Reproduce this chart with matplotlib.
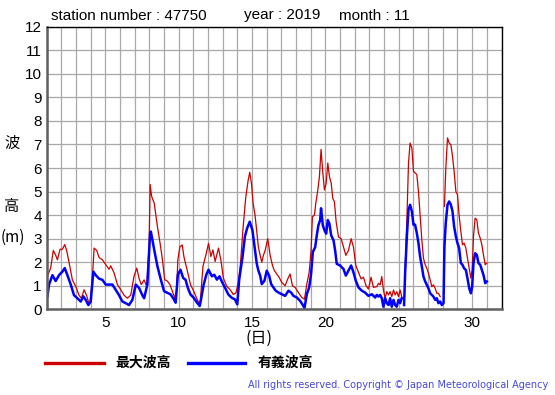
import numpy as np
import matplotlib
matplotlib.use("Agg")
import matplotlib.pyplot as plt

nan = float("nan")

# ---- data (day-of-month position, wave height in m) ----
max_days = [1.05, 1.27, 1.45, 1.61, 1.73, 1.91, 2.07, 2.23, 2.36, 2.52, 2.75, 2.98, 3.20, 3.36, 3.55,
            3.73, 3.84, 3.95, 4.11, 4.23, 4.41, 4.57, 4.80, 5.02, 5.25, 5.36, 5.59, 5.82, 6.05, 6.27,
            6.50, 6.73, 6.95, 7.14, 7.30, 7.45, 7.64, 7.82, 7.98, 8.05, 8.15,
            8.33, 8.55, 8.73, 8.89, 9.04, 9.22, 9.40, 9.56, 9.72, 9.85, 9.94, 10.08, 10.24, 10.35,
            10.46, 10.62, 10.80, 11.02, 11.20, 11.36, 11.47, 11.65, 11.88, 12.03, 12.19, 12.33, 12.48,
            12.71, 12.87, 13.04, 13.27, 13.49, 13.72, 13.90, 14.06, 14.21, 14.39, 14.57, 14.73, 14.84,
            14.96, 15.07,
            15.20, 15.32, 15.43, 15.55, 15.66, 15.77, 15.89, 16.07, 16.23, 16.39, 16.52, 16.68, 16.84,
            17.02, 17.25, 17.43, 17.59, 17.75, 17.93, 18.16, 18.39, 18.57, 18.73, 18.89, 19.02, 19.11,
            19.25, 19.34, 19.48, 19.59, 19.70, 19.82, 19.93, 20.05, 20.16, 20.27, 20.39, 20.50, 20.61,
            20.73, 20.89, 21.07, 21.23, 21.39, 21.57, 21.75, 21.91, 22.07, 22.25, 22.43, 22.59, 22.77,
            22.93, 23.11, 23.27,
            23.50, 23.61, 23.73, 23.84, 23.95, 24.07, 24.18, 24.30, 24.41, 24.52, 24.64, 24.75, 24.86,
            24.98, 25.09, 25.20, 25.30,
            25.43, 25.55, 25.66, 25.77, 25.89, 26.00, 26.11, 26.23, 26.34, 26.45, 26.57, 26.68, 26.80,
            26.91, 27.02, 27.14, 27.25, 27.36, 27.48, 27.59, 27.70, 27.82, 27.95,
            28.11, 28.20, 28.32, 28.43, 28.55, 28.66, 28.77, 28.89, 29.00, 29.11, 29.23, 29.34, 29.45,
            29.57, 29.68, 29.80, 29.91, 30.00, 30.09, 30.20, 30.32, 30.43, 30.55, 30.66, 30.77, 30.89,
            31.00]
max_wave = [1.4, 1.75, 2.5, 2.3, 2.1, 2.55, 2.55, 2.75, 2.5, 2.0, 1.25, 0.97, 0.6, 0.47, 0.83,
            0.57, 0.33, 0.26, 1.25, 2.6, 2.5, 2.2, 2.1, 1.9, 1.7, 1.85, 1.55, 1.05, 0.83, 0.6,
            0.47, 0.6, 1.4, 1.75, 1.3, 1.05, 1.25, 0.97, 2.7, 5.3, 4.8,
            4.5, 3.5, 2.8, 2.1, 1.26, 1.2, 1.05, 0.77, 0.5, 0.77, 2.1, 2.66, 2.73, 2.24,
            1.96, 1.54, 1.05, 0.77, 0.5, 0.28, 0.35, 1.82, 2.38, 2.8, 2.24, 2.52, 2.03,
            2.6, 2.1, 1.33, 0.98, 0.84, 0.63, 0.7, 1.12, 1.96, 3.5, 4.77, 5.47, 5.82,
            5.33, 4.49,
            4.0, 3.3, 2.64, 2.29, 2.0, 2.29, 2.5, 3.0, 2.29, 1.86, 1.64, 1.5, 1.36,
            1.14, 1.0, 1.29, 1.5, 1.0, 0.93, 0.71, 0.5, 0.43, 1.07, 1.57, 2.5, 3.93,
            4.0, 4.5, 5.07, 5.64, 6.79, 5.79, 5.07, 5.36, 6.21, 5.64, 5.36, 4.71, 4.57,
            3.71, 3.07, 3.0, 2.64, 2.29, 2.5, 3.0, 2.64, 1.86, 1.57, 1.29, 1.36, 1.0,
            0.86, 1.36, 0.93,
            0.96, 1.1, 1.04, 1.39, 0.82, 0.47, 0.75, 0.61, 0.75, 0.54, 0.82, 0.61, 0.75,
            0.54, 0.82, 0.54, nan,
            1.67, 3.8, 6.2, 7.06, 6.85, 5.86, 5.79, 5.72, 5.0, 4.0, 2.95, 2.17, 1.89,
            1.74, 1.53, 1.25, 0.96, 1.04, 0.89, 0.68, 0.68, 0.54, nan,
            4.37, 5.93, 7.28, 7.06, 6.99, 6.5, 5.86, 5.0, 4.87, 4.0, 3.3, 2.74, 2.81,
            2.6, 2.17, 1.74, 1.32, 1.67, 3.09, 3.87, 3.8, 3.23, 3.02, 2.74, 2.31, 1.89,
            1.96]

sig_days = [1.05, 1.16, 1.39, 1.61, 1.84, 2.07, 2.23, 2.41, 2.64, 2.86, 3.09, 3.32, 3.50, 3.66, 3.84,
            4.00, 4.18, 4.34, 4.57, 4.80, 5.02, 5.25, 5.48, 5.70, 5.93, 6.16, 6.39, 6.61, 6.84, 7.07,
            7.30, 7.52, 7.64, 7.86, 8.05,
            8.10, 8.33, 8.55, 8.78, 9.00, 9.22, 9.45, 9.67, 9.79, 9.94, 10.12, 10.30, 10.46, 10.62,
            10.80, 11.02, 11.25, 11.43, 11.52, 11.70, 11.88, 12.03, 12.26, 12.42, 12.60, 12.78, 12.93,
            13.16, 13.38, 13.61, 13.83, 13.99, 14.12, 14.35, 14.51, 14.66, 14.84, 15.02,
            15.20, 15.32, 15.43, 15.55, 15.66, 15.84, 16.00, 16.16, 16.30, 16.45, 16.61, 16.80, 17.02,
            17.25, 17.48, 17.66, 17.82, 18.05, 18.27, 18.43, 18.57, 18.73, 18.89, 19.02, 19.14, 19.30,
            19.41, 19.52, 19.64, 19.70, 19.82, 19.93, 20.05, 20.16, 20.27, 20.39, 20.55, 20.66, 20.77,
            21.00, 21.23, 21.39, 21.57, 21.75, 21.91, 22.07, 22.25, 22.48, 22.70, 22.93, 23.16, 23.39,
            23.50, 23.61, 23.73, 23.84, 23.95, 24.07, 24.18, 24.30, 24.41, 24.52, 24.64, 24.75, 24.86,
            24.98, 25.09, 25.20, 25.26,
            25.36, 25.43, 25.55, 25.66, 25.77, 25.89, 26.00, 26.11, 26.23, 26.34, 26.45, 26.57, 26.68,
            26.80, 26.91, 27.02, 27.14, 27.25, 27.36, 27.48, 27.59, 27.70, 27.82, 27.93, 28.05,
            28.11, 28.20, 28.32, 28.43, 28.55, 28.66, 28.77, 28.89, 29.00, 29.11, 29.23, 29.34, 29.45,
            29.57, 29.68, 29.80, 29.91, 30.00, 30.09, 30.20, 30.32, 30.43, 30.55, 30.66, 30.77, 30.89,
            31.00]
sig_wave = [0.55, 1.05, 1.45, 1.2, 1.45, 1.6, 1.75, 1.45, 1.05, 0.6, 0.47, 0.33, 0.55, 0.4, 0.18,
            0.33, 1.6, 1.45, 1.3, 1.25, 1.05, 1.05, 1.05, 0.83, 0.6, 0.33, 0.26, 0.18, 0.4, 1.05,
            0.9, 0.6, 0.47, 1.05, 3.25,
            3.3, 2.52, 1.82, 1.26, 0.77, 0.7, 0.63, 0.42, 0.28, 1.47, 1.68, 1.33, 1.26, 0.91,
            0.63, 0.49, 0.28, 0.14, 0.42, 1.05, 1.47, 1.68, 1.4, 1.47, 1.26, 1.4, 1.19,
            0.91, 0.63, 0.49, 0.42, 0.21, 1.26, 2.24, 3.09, 3.44, 3.72, 3.37,
            2.5, 1.93, 1.64, 1.43, 1.07, 1.21, 1.64, 1.43, 1.07, 0.93, 0.79, 0.71, 0.64,
            0.57, 0.79, 0.71, 0.57, 0.5, 0.36, 0.21, 0.05, 0.64, 0.93, 1.5, 2.43, 2.64,
            3.14, 3.57, 3.79, 4.29, 3.57, 3.36, 3.21, 3.79, 3.64, 3.14, 2.93, 2.5, 1.93,
            1.86, 1.71, 1.43, 1.64, 1.86, 1.57, 1.21, 0.93, 0.79, 0.71, 0.57, 0.64, 0.5,
            0.61, 0.54, 0.61, 0.47, 0.11, 0.47, 0.26, 0.18, 0.47, 0.11, 0.4, 0.18, 0.11,
            0.4, 0.26, 0.47, nan,
            0.18, 1.53, 3.09, 4.23, 4.44, 4.16, 3.59, 3.59, 3.23, 2.81, 2.24, 1.82, 1.39,
            1.18, 1.04, 0.89, 0.68, 0.61, 0.54, 0.4, 0.47, 0.26, 0.33, 0.18, 0.26,
            2.67, 3.66, 4.44, 4.58, 4.44, 4.16, 3.52, 3.09, 2.81, 2.6, 1.96, 1.89, 1.74,
            1.67, 1.32, 0.89, 0.68, 0.96, 1.96, 2.38, 2.31, 1.96, 1.89, 1.67, 1.46, 1.11,
            1.18]

x_ticks = [5, 10, 15, 20, 25, 30]
y_ticks = list(range(0, 13))
title_parts = ["station number : 47750", "year : 2019", "month : 11"]
legend_labels = ["最大波高", "有義波高"]
series_colors = ["#cc0000", "#0000ff"]

# ---- figure ----
W, H = 555, 395
fig = plt.figure(figsize=(W / 100, H / 100), dpi=100)
fig.patch.set_facecolor("white")

L, R, T, B = 46.7, 501.5, 26.7, 309.3
ax = fig.add_axes([L / W, 1 - B / H, (R - L) / W, (B - T) / H])
ax.set_xlim(1, 32)
ax.set_ylim(0, 12)

ax.set_xticks(range(1, 33), minor=True)
ax.set_xticks(x_ticks)
ax.set_yticks(y_ticks)
ax.grid(True, which="both", color="#a8a8a8", linewidth=0.9)
ax.set_axisbelow(True)
ax.tick_params(which="both", length=0)
ax.tick_params(axis="y", pad=3.5, labelsize=11)
ax.tick_params(axis="x", pad=4.5, labelsize=11)
for lab in ax.get_xticklabels() + ax.get_yticklabels():
    lab.set_family(["Liberation Sans", "DejaVu Sans"])

for side in ["left", "bottom"]:
    ax.spines[side].set_color("#606060")
    ax.spines[side].set_linewidth(1.8)
for side in ["top", "right"]:
    ax.spines[side].set_color("black")
    ax.spines[side].set_linewidth(1.0)

ax.plot(max_days, max_wave, color=series_colors[0], linewidth=0.9)
ax.plot(sig_days, sig_wave, color=series_colors[1], linewidth=1.8)

latin = ["Liberation Sans", "DejaVu Sans"]
cjk = ["Noto Sans CJK JP", "DejaVu Sans"]

# title
for txt, xp in zip(title_parts, [51, 244, 339]):
    fig.text(xp / W, 1 - 15.5 / H, txt, fontsize=11, family=latin, ha="left", va="center")

# y label
fig.text(12 / W, 1 - 143 / H, "波", fontsize=11, family=cjk, ha="center", va="center")
fig.text(12 / W, 1 - 207 / H, "高", fontsize=11, family=cjk, ha="center", va="center")
fig.text(13 / W, 1 - 237 / H, "(m)", fontsize=11, family=cjk, ha="center", va="center")

# x label
fig.text(259 / W, 1 - 338 / H, "(日)", fontsize=11.5, family=cjk, ha="center", va="center")

# legend
ly = 1 - 362.7 / H
fig.add_artist(plt.Line2D([45 / W, 104 / W], [ly, ly], color=series_colors[0], linewidth=2.4))
fig.text(115 / W, ly, legend_labels[0], fontsize=10, family=cjk, weight="bold", ha="left", va="center")
fig.add_artist(plt.Line2D([188 / W, 245 / W], [ly, ly], color=series_colors[1], linewidth=2.4))
fig.text(258 / W, ly, legend_labels[1], fontsize=10, family=cjk, weight="bold", ha="left", va="center")

fig.text(548 / W, 1 - 385 / H, "All rights reserved. Copyright © Japan Meteorological Agency",
         fontsize=7.0, family=["DejaVu Sans"], color="#4848dd", ha="right", va="center")

fig.savefig("out.png", dpi=100, facecolor="white")
